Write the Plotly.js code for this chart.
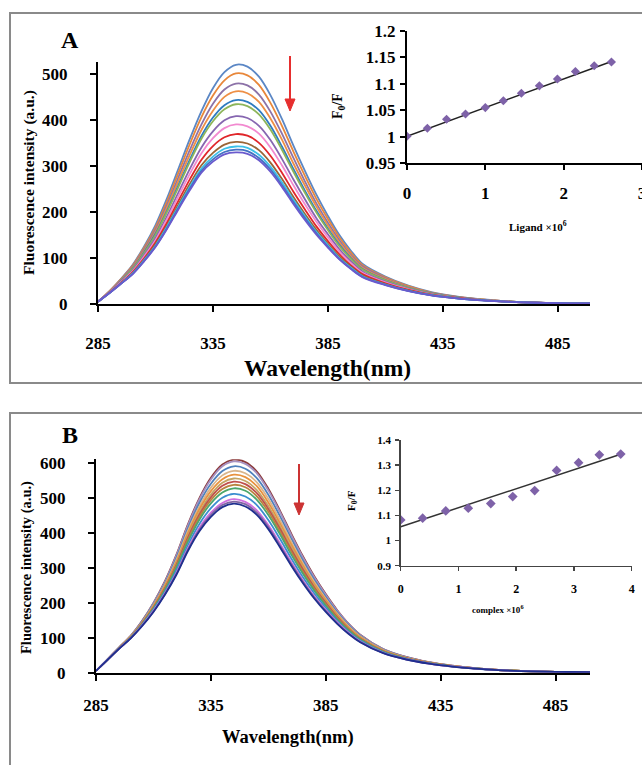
<!DOCTYPE html>
<html>
<head>
<meta charset="utf-8">
<script src="https://cdn.plot.ly/plotly-3.0.1.min.js"></script>
<style>html,body{margin:0;padding:0;background:#fff;}#chart{width:642px;height:765px;}</style>
</head>
<body>
<div id="chart"></div>
<script>
// ---------------- DATA ----------------
const wavelength = [285,290,295,300,305,310,315,320,325,330,335,340,345,350,355,360,365,370,375,380,385,390,395,400,410,420,430,440,450,460,470,480,490,500];

// Panel A : fluorescence spectra (top to bottom)
const specA1  = [5,28,55,85,125,172,230,295,360,420,470,505,521,517,495,455,403,345,290,238,192,150,116,88,60,40,26,17,11,7,4,2.5,1.5,1];
const specA2  = [5,28,54,83,122,167,223,286,349,407,454,487,502,498,477,438,388,332,279,229,185,145,112,85,58,39,25,16.6,10.8,6.9,3.9,2.5,1.5,1];
const specA3  = [5,27,53,81,118,162,216,276,336,391,436,467,480,476,456,419,371,318,267,219,177,139,107,82,56,37,24.4,16.1,10.5,6.7,3.9,2.4,1.5,1];
const specA4  = [5,27,52,79,115,157,210,268,326,379,421,451,463,459,440,404,358,306,258,212,171,134,104,79,54,36,23.8,15.7,10.3,6.6,3.8,2.4,1.5,1];
const specA5  = [5,26,51,77,112,153,203,259,315,366,406,433,444,440,422,388,343,294,247,203,164,129,100,76,52,35,23.1,15.3,10,6.4,3.8,2.4,1.5,1];
const specA6  = [5,26,50,76,110,150,200,255,310,360,398,424,435,431,413,380,336,288,242,199,161,126,98,75,51.5,34.6,22.7,15.1,9.9,6.4,3.7,2.4,1.5,1];
const specA7  = [5,25.5,49,73,106,144,191,243,295,341,376,400,409,405,388,357,316,271,228,187,152,119,93,71,49,33,21.7,14.5,9.6,6.2,3.6,2.35,1.45,1];
const specA8  = [5,25,47.5,71,103,139,185,235,284,328.5,361,383,391,387,371,341,302,258.5,217,179,145,114,89,68,47,32,21,14.1,9.4,6,3.6,2.3,1.45,1];
const specA9  = [5,24.7,46,69,99,134,177,225,272,314,344,363,370,366.5,351,323,286,244.5,206,169,137,108,84,65,45,30.5,20.2,13.6,9.1,5.9,3.5,2.3,1.44,1];
const specA10 = [5,24.3,45,67,96,130,171,217,262,302,329,347,353,349.5,335,308,272.5,233,196,161.5,131,103,81,62,43.4,29.4,19.6,13.3,8.9,5.8,3.5,2.3,1.43,1];
const specA11 = [5,24,44.7,66,95,127,168,212.5,256,295,321,338,343,340,325,299,265,227,191,157,128,100,79,60.5,42.4,28.8,19.2,13,8.8,5.7,3.45,2.27,1.43,1];
const specA12 = [5,23.9,44.3,65,93.5,125,165,209,252,290,315,331,336,333,318,293,259,222,187,154,125,98,77,59.4,41.7,28.4,18.9,12.9,8.7,5.6,3.42,2.26,1.42,1];
const specA13 = [5,23.8,44,64.6,92.5,124,163,206.5,248,286,310,326,330,327,313,288,255,218,183,151,123,97,76,58.5,41.1,28,18.7,12.75,8.6,5.6,3.4,2.25,1.42,1];

// Panel B : fluorescence spectra (top to bottom)
const specB1  = [5,38,72,105,148,200,262,338,425,500,558,596,610,603,576,527,465,398,334,276,225,179,140,109,68,45,30,20,13,8,5,3,2,1.5];
const specB2  = [5,38,72,105,147,199,260,336,422,496,553,591,605,598,571,522,461,394,331,273.5,223,177,139,108,67.5,44.7,29.8,19.9,12.9,8,5,3,2,1.5];
const specB3  = [5,37.8,71.5,104,146,196,256,329,413,486,541,577.5,591,584,557,509.5,449,384,322,266,217,173,136,106,66,44,29.4,19.6,12.8,7.9,5,3,2,1.5];
const specB4  = [5,37.7,71,103,144,193,252,323,406,476,530,565,578,571,545,498,438,375,314.5,260,212,169,132.5,103.5,65,43.2,28.9,19.4,12.7,7.8,4.9,3,2,1.5];
const specB5  = [5,37.6,71,102.5,143,191,249,318,399,468,520,554,567,560,534,487.5,429,367,308,254,208,166,130,102,64,42.5,28.6,19.2,12.6,7.8,4.9,3,2,1.5];
const specB6  = [5,37.5,70.5,102,142,189,245,313,392,459,510,544,556,549,523,477,420,359,301,249,203,162,127,100,63,42,28.2,19,12.4,7.7,4.9,2.95,2,1.5];
const specB7  = [5,37.4,70,101,141,187,242,309,387,452.5,502,535,547,540,514,469,413,352,296,244,200,159,125,98,62,41.4,27.9,18.8,12.35,7.7,4.85,2.94,2,1.5];
const specB8  = [5,37.3,70,101,139.5,185,240,305,381,446,494,526,538,531,505,461,405,346,290,240,196,156.5,123,96.6,61,40.9,27.6,18.6,12.3,7.6,4.8,2.93,1.98,1.5];
const specB9  = [5,37.3,69.7,100,138,183,236,301,375,438,485,516,528,521,495,451.5,397,338,284,235,192,153,121,95,60,40.3,27.3,18.4,12.15,7.6,4.8,2.92,1.97,1.5];
const specB10 = [5,37.1,69,99,136.5,180,231,293,365.5,426,471,501,512,504.5,480,437,384,327,274,227,186,148,117,92,58.5,39.4,26.7,18.1,12,7.5,4.77,2.9,1.97,1.5];
const specB11 = [5,37,68.8,98.4,134.7,177,227,286,356,415,458,486,497,489,465,423,371,316,265,219,180,144,114,89.4,57,38.5,26.2,17.85,11.8,7.4,4.73,2.9,1.96,1.5];
const specB12 = [5,36.9,68.6,98,134,175,225,283,352,410,452,480,490,482.5,458,417,365,311,261,215.5,177,141.5,112,88.2,56.4,38.1,26,17.7,11.76,7.4,4.71,2.89,1.96,1.5];
const specB13 = [5,36.9,68.4,97.7,133,174,223,280.5,348.5,405,446,474,484,476,452,411,360,306.5,257,212.5,174,140,110.6,87.2,55.8,37.8,25.8,17.6,11.7,7.36,4.7,2.88,1.96,1.5];

// Inset A : Stern-Volmer (Ligand)
const ligandConc = [0,0.26,0.505,0.747,1.0,1.23,1.46,1.69,1.92,2.15,2.39,2.61];
const ratioA     = [1.001,1.016,1.033,1.043,1.055,1.068,1.082,1.096,1.109,1.123,1.134,1.141];
const fitAx = [0,2.61];
const fitAy = [1.001,1.142];

// Inset B : Stern-Volmer (complex)
const complexConc = [0,0.38,0.78,1.17,1.56,1.94,2.32,2.70,3.08,3.44,3.81];
const ratioB      = [1.082,1.089,1.118,1.129,1.147,1.175,1.199,1.279,1.310,1.341,1.344];
const fitBx = [0,3.81];
const fitBy = [1.055,1.343];

// Tick labels
const mainXTicks = [285,335,385,435,485];
const mainATicksY = [0,100,200,300,400,500];
const mainBTicksY = [0,100,200,300,400,500,600];
const insetATicksX = [0,1,2,3];
const insetATicksY = [0.95,1,1.05,1.1,1.15,1.2];
const insetATickText = ['0.95','1','1.05','1.1','1.15','1.2'];
const insetBTicksX = [0,1,2,3,4];
const insetBTicksY = [0.9,1,1.1,1.2,1.3,1.4];
const insetBTickText = ['0.9','1','1.1','1.2','1.3','1.4'];

// ---------------- STYLE ----------------
const colorsA = ['#5B87C5','#E8873A','#8C72A8','#EE8F45','#2E7BC0','#8DB55A','#8666B0','#F28AD0','#E0262A','#9A6536','#3CC0E8','#4472C4','#6A5ACD'];
const colorsB = ['#8B3A3A','#A690C0','#4F81BD','#D9B58C','#E8923E','#C4A464','#C0504D','#B9833F','#4CA66B','#3C8DD0','#D070E0','#8064A2','#1F2F8F'];
const SERIF = '"Liberation Serif","Times New Roman",serif';
const W = 642, H = 765;
const px = x => x / W;
const py = y => 1 - y / H;

const seriesA = [specA1,specA2,specA3,specA4,specA5,specA6,specA7,specA8,specA9,specA10,specA11,specA12,specA13];
const seriesB = [specB1,specB2,specB3,specB4,specB5,specB6,specB7,specB8,specB9,specB10,specB11,specB12,specB13];

const traces = [];
seriesA.forEach((s, i) => traces.push({
  x: wavelength, y: s, type: 'scatter', mode: 'lines', xaxis: 'x', yaxis: 'y',
  line: {color: colorsA[i], width: 1.8, shape: 'spline', smoothing: 0.9}, hoverinfo: 'skip'
}));
seriesB.forEach((s, i) => traces.push({
  x: wavelength, y: s, type: 'scatter', mode: 'lines', xaxis: 'x3', yaxis: 'y3',
  line: {color: colorsB[i], width: 1.8, shape: 'spline', smoothing: 0.9}, hoverinfo: 'skip'
}));
traces.push({x: fitAx, y: fitAy, type: 'scatter', mode: 'lines', xaxis: 'x2', yaxis: 'y2', line: {color: '#222', width: 1.5}});
traces.push({x: ligandConc, y: ratioA, type: 'scatter', mode: 'markers', xaxis: 'x2', yaxis: 'y2',
  marker: {symbol: 'diamond', size: 7, color: '#7E62A8'}});
traces.push({x: fitBx, y: fitBy, type: 'scatter', mode: 'lines', xaxis: 'x4', yaxis: 'y4', line: {color: '#333', width: 1.5}});
traces.push({x: complexConc, y: ratioB, type: 'scatter', mode: 'markers', xaxis: 'x4', yaxis: 'y4',
  marker: {symbol: 'diamond', size: 7.5, color: '#7E62A8'}});

function ax(opts) {
  return Object.assign({
    showgrid: false, zeroline: false, showline: true, linecolor: '#000', linewidth: 2,
    ticks: 'outside', ticklen: 6, tickwidth: 2, tickcolor: '#000',
    tickfont: {family: SERIF, size: 17, color: '#000', weight: 'bold'},
    fixedrange: true
  }, opts);
}

function ann(text, x, y, size, extra) {
  return Object.assign({
    text: text, xref: 'paper', yref: 'paper', x: px(x), y: py(y),
    xanchor: 'center', yanchor: 'middle', showarrow: false,
    font: {family: SERIF, size: size, color: '#000', weight: 'bold'}
  }, extra || {});
}

// red arrows drawn as shapes (shaft + head)
function arrowShapes(x, yTop, yTip, color) {
  const hw = 5, hl = 12;
  return [
    {type: 'line', xref: 'paper', yref: 'paper', x0: px(x), x1: px(x), y0: py(yTop), y1: py(yTip - hl + 2),
     line: {color: color, width: 2}},
    {type: 'path', xref: 'paper', yref: 'paper',
     path: 'M ' + px(x - hw) + ' ' + py(yTip - hl) + ' L ' + px(x + hw) + ' ' + py(yTip - hl) + ' L ' + px(x) + ' ' + py(yTip) + ' Z',
     fillcolor: color, line: {color: color, width: 1}}
  ];
}

const layout = {
  width: W, height: H,
  margin: {l: 0, r: 0, t: 0, b: 0},
  paper_bgcolor: '#fff', plot_bgcolor: 'rgba(0,0,0,0)',
  showlegend: false,
  xaxis: ax({domain: [px(98), px(590)], range: [285, 499], anchor: 'y', tickvals: mainXTicks, ticklabelstandoff: 17}),
  yaxis: ax({domain: [py(304), py(62)], range: [0, 527], anchor: 'x', tickvals: mainATicksY, ticklabelstandoff: 19}),
  xaxis2: ax({domain: [px(407), 1], range: [0, 3], anchor: 'y2', tickvals: insetATicksX, ticklen: 5, ticklabelstandoff: 8, ticklabeloverflow: 'allow'}),
  yaxis2: ax({domain: [py(163.3), py(30.7)], range: [0.95, 1.2], anchor: 'x2', tickvals: insetATicksY, ticktext: insetATickText, ticklen: 5, ticklabelstandoff: 1}),
  xaxis3: ax({domain: [px(96), px(590)], range: [285, 500], anchor: 'y3', tickvals: mainXTicks, ticklabelstandoff: 10}),
  yaxis3: ax({domain: [py(672.7), py(459.3)], range: [0, 611], anchor: 'x3', tickvals: mainBTicksY, ticklabelstandoff: 19}),
  xaxis4: ax({domain: [px(400.7), px(631.7)], range: [0, 4], anchor: 'y4', tickvals: insetBTicksX, ticklen: 4, tickwidth: 1.5, linewidth: 1.5, linecolor: '#444', tickcolor: '#444', ticklabelstandoff: 7,
    tickfont: {family: SERIF, size: 12, color: '#000', weight: 'bold'}}),
  yaxis4: ax({domain: [py(565.7), py(440)], range: [0.9, 1.4], anchor: 'x4', tickvals: insetBTicksY, ticktext: insetBTickText, ticklen: 4, tickwidth: 1.5, linewidth: 1.5, linecolor: '#444', tickcolor: '#444', ticklabelstandoff: 2,
    tickfont: {family: SERIF, size: 11, color: '#000', weight: 'bold'}}),
  shapes: [
    {type: 'rect', xref: 'paper', yref: 'paper', x0: px(10), x1: 1.05, y0: py(383), y1: py(13), line: {color: '#8a8a8a', width: 2}},
    {type: 'rect', xref: 'paper', yref: 'paper', x0: px(10), x1: 1.05, y0: -0.05, y1: py(413), line: {color: '#8a8a8a', width: 2}}
  ].concat(arrowShapes(290, 56, 111, '#E62E2E'), arrowShapes(299, 464, 515, '#CC3333')),
  annotations: [
    ann('A', 70, 40, 24),
    ann('B', 70, 435, 24),
    ann('Wavelength(nm)', 327, 368, 23.5),
    ann('Fluorescence intensity (a.u.)', 29, 183, 15.5, {textangle: -90}),
    ann('F<sub>0</sub>/F', 339, 106, 14, {textangle: -90}),
    ann('Ligand ×10<sup>6</sup>', 538, 226, 11),
    ann('Wavelength(nm)', 288, 737, 18.5),
    ann('Fluorescence intensity (a.u.)', 26, 568, 14.5, {textangle: -90}),
    ann('F<sub>0</sub>/F', 352, 500, 11, {textangle: -90}),
    ann('complex ×10<sup>6</sup>', 498, 609, 9)
  ]
};

Plotly.newPlot('chart', traces, layout, {staticPlot: true, displayModeBar: false});
</script>
</body>
</html>
